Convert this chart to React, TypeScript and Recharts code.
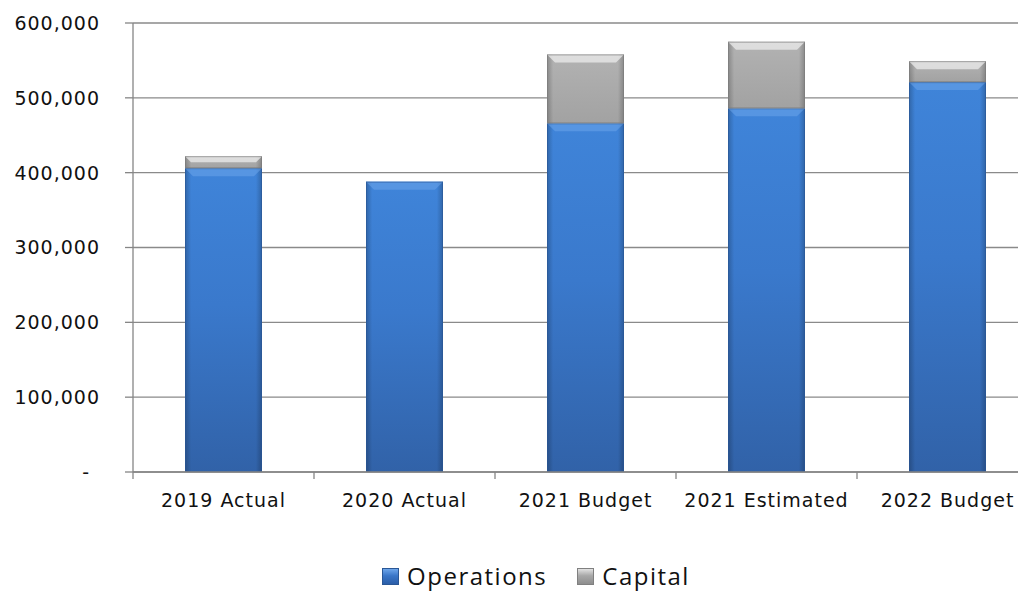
import { BarChart, Bar, XAxis, YAxis, CartesianGrid, Legend } from 'recharts'

const CATEGORIES = ['2019 Actual', '2020 Actual', '2021 Budget', '2021 Estimated', '2022 Budget']
const OPERATIONS = [406000, 388000, 466000, 486000, 521000]
const CAPITAL = [16000, 0, 92000, 89000, 28000]
const Y_TICKS = [0, 100000, 200000, 300000, 400000, 500000, 600000]

const SERIES = [
  { key: 'operations', label: 'Operations', tone: 'blue' },
  { key: 'capital', label: 'Capital', tone: 'gray' },
]

const data = CATEGORIES.map((name, i) => ({
  name,
  operations: OPERATIONS[i],
  capital: CAPITAL[i],
}))

const AXIS_FONT = '"DejaVu Sans", sans-serif'
const BAND = 181

const TONES: Record<string, { light: string; lightOpacity: number; grad: string; edge: string }> = {
  blue: { light: '#6fa8ec', lightOpacity: 0.5, grad: 'url(#opsV)', edge: '#2a5796' },
  gray: { light: '#ececec', lightOpacity: 0.75, grad: 'url(#capV)', edge: '#7a7a7a' },
}

function BevelBar(props: any) {
  const { x, y, width, height, tone } = props
  if (!height || height <= 0) return null
  const t = TONES[tone]
  const b = Math.min(8, height / 2)
  return (
    <g>
      <rect x={x} y={y} width={width} height={height} fill={t.grad} />
      <rect x={x} y={y} width={width} height={height} fill="url(#edgeH)" />
      <polygon
        points={`${x},${y} ${x + width},${y} ${x + width - b},${y + b} ${x + b},${y + b}`}
        fill={t.light}
        opacity={t.lightOpacity}
      />
      <rect x={x + 0.5} y={y + 0.5} width={width - 1} height={height - 1} fill="none" stroke={t.edge} strokeOpacity={0.6} />
    </g>
  )
}

function YTick(props: any) {
  const { x, y, payload } = props
  const v = payload.value as number
  return (
    <text
      x={v === 0 ? x - 10 : x}
      y={y}
      dy="0.36em"
      textAnchor="end"
      fill="#111"
      fontFamily={AXIS_FONT}
      fontSize={19}
      letterSpacing={1}
    >
      {v === 0 ? '-' : v.toLocaleString('en-US')}
    </text>
  )
}

function XTick(props: any) {
  const { x, y, payload, index } = props
  const half = BAND / 2
  return (
    <g>
      <line x1={x - half} y1={y} x2={x - half} y2={y + 7} stroke="#868686" strokeWidth={1.3} />
      {index === CATEGORIES.length - 1 && (
        <line x1={x + half} y1={y} x2={x + half} y2={y + 7} stroke="#868686" strokeWidth={1.3} />
      )}
      <text x={x} y={y + 35} textAnchor="middle" fill="#111" fontFamily={AXIS_FONT} fontSize={19} letterSpacing={1}>
        {payload.value}
      </text>
    </g>
  )
}

function LegendContent() {
  return (
    <div
      style={{
        display: 'flex',
        justifyContent: 'center',
        alignItems: 'center',
        height: 40,
        lineHeight: '36px',
        paddingLeft: 64,
        paddingBottom: 4,
        boxSizing: 'border-box',
        fontFamily: '"Open Sans", sans-serif',
        fontSize: 24,
        letterSpacing: 1.5,
        color: '#111',
      }}
    >
      {SERIES.map((s) => (
        <div key={s.key} style={{ display: 'flex', alignItems: 'center', marginRight: 30 }}>
          <span
            style={{
              display: 'inline-block',
              width: 17,
              height: 17,
              marginRight: 8,
              background:
                s.tone === 'blue'
                  ? 'linear-gradient(#6ea6ea, #3a76c8 45%, #2b5ea8)'
                  : 'linear-gradient(#e2e2e2, #a8a8a8 45%, #8e8e8e)',
              border: `1px solid ${s.tone === 'blue' ? '#2a5796' : '#808080'}`,
              boxSizing: 'border-box',
            }}
          />
          <span>{s.label}</span>
        </div>
      ))}
    </div>
  )
}

export default function App() {
  return (
    <div style={{ margin: -8, width: 1026, height: 599, overflow: 'hidden', background: '#fff' }}>
      <BarChart
        width={1060}
        height={599}
        data={data}
        margin={{ top: 23, right: 22, left: 0, bottom: 1 }}
      >
        <defs>
          <linearGradient id="opsV" x1="0" y1="0" x2="0" y2="1">
            <stop offset="0" stopColor="#3f84d9" />
            <stop offset="0.45" stopColor="#3a79cc" />
            <stop offset="1" stopColor="#3162a8" />
          </linearGradient>
          <linearGradient id="capV" x1="0" y1="0" x2="0" y2="1">
            <stop offset="0" stopColor="#b2b2b2" />
            <stop offset="1" stopColor="#a2a2a2" />
          </linearGradient>
          <linearGradient id="edgeH" x1="0" y1="0" x2="1" y2="0">
            <stop offset="0" stopColor="#000" stopOpacity={0.22} />
            <stop offset="0.08" stopColor="#000" stopOpacity={0} />
            <stop offset="0.92" stopColor="#000" stopOpacity={0} />
            <stop offset="1" stopColor="#000" stopOpacity={0.22} />
          </linearGradient>
        </defs>
        <CartesianGrid vertical={false} stroke="#8a8a8a" strokeWidth={1.3} />
        <XAxis
          dataKey="name"
          height={86}
          tick={<XTick />}
          tickSize={0}
          tickMargin={0}
          tickLine={false}
          interval={0}
          axisLine={{ stroke: '#868686', strokeWidth: 1.3 }}
        />
        <YAxis
          width={133}
          domain={[0, 600000]}
          ticks={Y_TICKS}
          tick={<YTick />}
          tickSize={8}
          tickMargin={25}
          tickLine={{ stroke: '#868686', strokeWidth: 1.3 }}
          axisLine={{ stroke: '#868686', strokeWidth: 1.3 }}
        />
        <Legend verticalAlign="bottom" height={40} content={<LegendContent />} />
        {SERIES.map((s) => (
          <Bar
            key={s.key}
            dataKey={s.key}
            stackId="total"
            barSize={77}
            fill={s.tone === 'blue' ? '#3c7dd1' : '#a8a8a8'}
            shape={(p: any) => <BevelBar {...p} tone={s.tone} />}
            isAnimationActive={false}
          />
        ))}
      </BarChart>
    </div>
  )
}
